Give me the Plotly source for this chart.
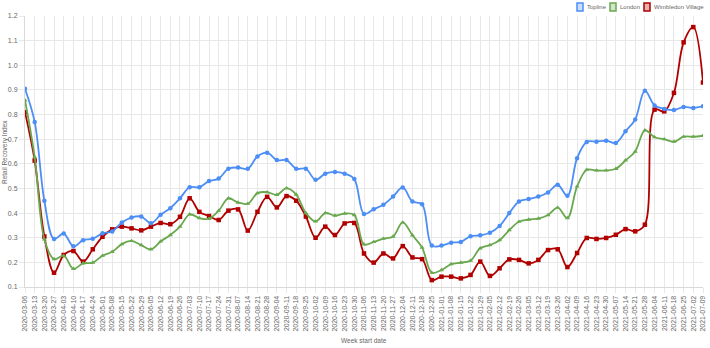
import plotly.graph_objects as go
import pandas as pd

weeks = [d.strftime("%Y-%m-%d") for d in pd.date_range("2020-03-06", "2021-07-09", freq="7D")]

topline = [0.905, 0.77, 0.45, 0.295, 0.317, 0.265, 0.29, 0.296, 0.318, 0.325,
           0.362, 0.382, 0.386, 0.359, 0.393, 0.42, 0.46, 0.505, 0.505, 0.53,
           0.54, 0.58, 0.585, 0.58, 0.63, 0.645, 0.615, 0.615, 0.58, 0.58,
           0.535, 0.56, 0.567, 0.56, 0.538, 0.396, 0.416, 0.434, 0.467, 0.504,
           0.447, 0.436, 0.268, 0.268, 0.28, 0.283, 0.306, 0.31, 0.32, 0.348,
           0.40, 0.447, 0.457, 0.467, 0.484, 0.515, 0.47, 0.623, 0.689, 0.69,
           0.694, 0.685, 0.732, 0.78, 0.897, 0.837, 0.823, 0.818, 0.831, 0.827,
           0.834]

london = [0.858, 0.627, 0.293, 0.213, 0.227, 0.174, 0.196, 0.199, 0.227, 0.243,
          0.274, 0.287, 0.27, 0.253, 0.285, 0.311, 0.345, 0.395, 0.38, 0.377,
          0.41, 0.46, 0.443, 0.438, 0.481, 0.485, 0.474, 0.501, 0.475, 0.40,
          0.366, 0.40, 0.39, 0.398, 0.392, 0.273, 0.283, 0.296, 0.305, 0.362,
          0.31, 0.26, 0.158, 0.169, 0.193, 0.199, 0.207, 0.257, 0.27, 0.29,
          0.331, 0.365, 0.374, 0.378, 0.392, 0.422, 0.38, 0.508, 0.576, 0.573,
          0.573, 0.58, 0.614, 0.65, 0.736, 0.708, 0.70, 0.69, 0.71, 0.71,
          0.714]

wimbledon = [0.81, 0.613, 0.305, 0.158, 0.23, 0.246, 0.203, 0.253, 0.304, 0.334,
             0.345, 0.338, 0.33, 0.345, 0.36, 0.355, 0.385, 0.46, 0.405, 0.388,
             0.372, 0.41, 0.415, 0.329, 0.405, 0.466, 0.423, 0.469, 0.45, 0.386,
             0.30, 0.345, 0.311, 0.358, 0.36, 0.236, 0.199, 0.236, 0.216, 0.266,
             0.22, 0.213, 0.128, 0.142, 0.142, 0.135, 0.149, 0.203, 0.145, 0.176,
             0.212, 0.21, 0.196, 0.21, 0.25, 0.253, 0.181, 0.238, 0.299, 0.295,
             0.299, 0.312, 0.335, 0.326, 0.353, 0.82, 0.813, 0.888, 1.093, 1.155,
             0.93]

series = [
    ("Topline", topline, "#4d8ef5", "circle"),
    ("London", london, "#6aa84f", "triangle-up"),
    ("Wimbledon Village", wimbledon, "#b00000", "square"),
]

fig = go.Figure()
for name, vals, col, sym in reversed(series):
    fig.add_trace(go.Scatter(
        x=weeks, y=vals, name=name, mode="lines+markers",
        line=dict(color=col, width=1.8, shape="spline", smoothing=1.0),
        marker=dict(color=col, size=4.5, symbol=sym),
        showlegend=False,
    ))

W, H = 710, 348
L, R, T, B = 25, 703, 16, 287


def px(x):
    return (x - L) / (R - L)


def py(y):
    return (B - y) / (B - T)


shapes = []
annotations = []
legend_items = [("Topline", 577, "#4d8ef5", "rgba(77,142,245,0.3)"),
                ("London", 610, "#6aa84f", "rgba(106,168,79,0.3)"),
                ("Wimbledon Village", 644, "#b00000", "rgba(176,0,0,0.3)")]
for name, bx, col, fill in legend_items:
    shapes.append(dict(type="rect", xref="paper", yref="paper",
                       x0=px(bx), x1=px(bx + 6), y0=py(11), y1=py(3),
                       line=dict(color=col, width=1.5), fillcolor=fill))
    annotations.append(dict(text=name, xref="paper", yref="paper",
                            x=px(bx + 8), y=py(7), xanchor="left", yanchor="middle",
                            showarrow=False, font=dict(size=6, color="#666666")))

annotations.append(dict(text="Week start date", xref="paper", yref="paper",
                        x=px(364), y=py(340), xanchor="center", yanchor="middle",
                        showarrow=False, font=dict(size=6.5, color="#666666")))
annotations.append(dict(text="Retail Recovery Index", xref="paper", yref="paper",
                        x=px(5), y=py(152), xanchor="center", yanchor="middle",
                        textangle=-90, showarrow=False,
                        font=dict(size=6.5, color="#666666")))

fig.update_layout(
    width=W, height=H,
    margin=dict(l=L, r=W - R, t=T, b=H - B),
    paper_bgcolor="white", plot_bgcolor="white",
    font=dict(family="Liberation Sans, Arial, sans-serif", color="#666666", size=7),
    shapes=shapes, annotations=annotations,
    showlegend=False,
)
fig.update_xaxes(
    type="category", range=[0, len(weeks) - 1],
    tickmode="array", tickvals=weeks, ticktext=weeks, tickangle=-90,
    showgrid=True, gridcolor="#e8e8e8", gridwidth=1,
    ticks="outside", ticklen=5, tickcolor="#e8e8e8",
    showline=True, linecolor="#d9d9d9", linewidth=1,
    tickfont=dict(size=7, color="#666666"), automargin=False, zeroline=False,
)
fig.update_yaxes(
    range=[0.1, 1.2], tickmode="linear", tick0=0.1, dtick=0.1, tickformat=".1f",
    showgrid=True, gridcolor="#e8e8e8", gridwidth=1,
    ticks="outside", ticklen=5, tickcolor="#e8e8e8",
    showline=True, linecolor="#d9d9d9", linewidth=1,
    tickfont=dict(size=7, color="#666666"), automargin=False, zeroline=False,
)

fig.write_html("out.html")
